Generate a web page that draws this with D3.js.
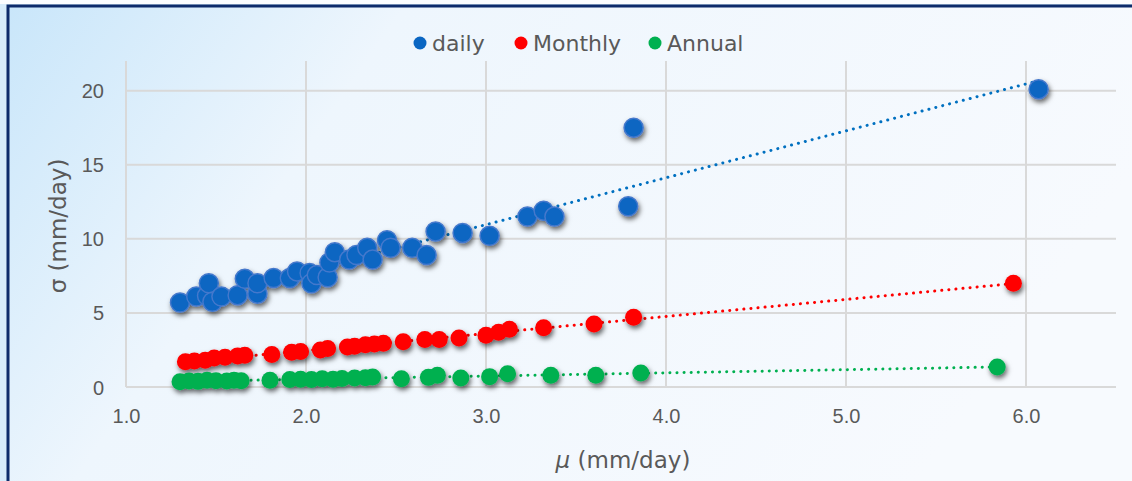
<!DOCTYPE html>
<html>
<head>
<meta charset="utf-8">
<script src="https://cdn.jsdelivr.net/npm/d3@7"></script>
<style>
  html, body { margin: 0; padding: 0; }
  body { width: 1132px; height: 481px; overflow: hidden; font-family: "DejaVu Sans", sans-serif; }
  .grid line { stroke: #d9d9d9; stroke-width: 2; }
  .tick-label { fill: #595959; font-size: 20px; }
  .title { fill: #595959; font-size: 23px; }
  .legend-text { fill: #595959; font-size: 22px; }
</style>
</head>
<body>
<svg id="chart" width="1132" height="481"></svg>
<script>
// mu (mm/day), sigma (mm/day)
const daily = [
  [1.30, 5.7], [1.39, 6.1], [1.45, 6.15], [1.46, 7.0], [1.48, 5.75], [1.53, 6.1],
  [1.62, 6.2], [1.66, 7.3], [1.73, 6.3], [1.73, 7.0], [1.82, 7.35], [1.91, 7.35],
  [1.95, 7.8], [2.02, 7.7], [2.03, 7.0], [2.06, 7.55], [2.12, 7.4], [2.13, 8.4],
  [2.16, 9.1], [2.24, 8.6], [2.28, 8.9], [2.34, 9.4], [2.37, 8.6], [2.45, 9.9],
  [2.47, 9.4], [2.59, 9.4], [2.67, 8.9], [2.72, 10.5], [2.87, 10.4], [3.02, 10.2],
  [3.23, 11.5], [3.32, 11.9], [3.38, 11.5], [3.79, 12.2], [3.82, 17.5], [6.07, 20.1]
];
const monthly = [
  [1.33, 1.7], [1.38, 1.75], [1.44, 1.8], [1.49, 1.95], [1.55, 2.0], [1.62, 2.1],
  [1.66, 2.15], [1.81, 2.2], [1.92, 2.35], [1.97, 2.4], [2.08, 2.5], [2.12, 2.6],
  [2.23, 2.7], [2.27, 2.75], [2.33, 2.85], [2.38, 2.9], [2.43, 2.95], [2.54, 3.05],
  [2.66, 3.2], [2.74, 3.2], [2.85, 3.3], [3.0, 3.5], [3.07, 3.7], [3.13, 3.9],
  [3.32, 4.0], [3.6, 4.25], [3.82, 4.7], [5.93, 7.0]
];
const annual = [
  [1.30, 0.35], [1.35, 0.4], [1.40, 0.38], [1.45, 0.45], [1.50, 0.42], [1.56, 0.4],
  [1.60, 0.45], [1.64, 0.42], [1.80, 0.45], [1.91, 0.5], [1.97, 0.52], [2.03, 0.5],
  [2.09, 0.55], [2.15, 0.52], [2.20, 0.58], [2.27, 0.6], [2.33, 0.62], [2.37, 0.68],
  [2.53, 0.55], [2.68, 0.65], [2.73, 0.8], [2.86, 0.6], [3.02, 0.7], [3.12, 0.9],
  [3.36, 0.8], [3.61, 0.8], [3.86, 0.95], [5.84, 1.35]
];
const seriesNames = ["daily", "Monthly", "Annual"];
const seriesColors = ["#0a66c2", "#ff0000", "#00b050"];
const xTicks = [1, 2, 3, 4, 5, 6];
const yTicks = [0, 5, 10, 15, 20];

const svg = d3.select("#chart");
const defs = svg.append("defs");

// background
const bg = defs.append("linearGradient").attr("id", "bg")
  .attr("x1", "0%").attr("y1", "0%").attr("x2", "100%").attr("y2", "30%");
bg.append("stop").attr("offset", "0%").attr("stop-color", "#c9e6fa");
bg.append("stop").attr("offset", "32%").attr("stop-color", "#eef6fd");
bg.append("stop").attr("offset", "100%").attr("stop-color", "#f7fafe");

const shadow = defs.append("filter").attr("id", "shadow")
  .attr("x", "-50%").attr("y", "-50%").attr("width", "200%").attr("height", "200%");
shadow.append("feDropShadow").attr("dx", 1.5).attr("dy", 3).attr("stdDeviation", 2.4)
  .attr("flood-color", "#000").attr("flood-opacity", 0.6);

svg.append("rect").attr("width", 1132).attr("height", 481).attr("fill", "#d7ecfb");
svg.append("rect").attr("x", 0).attr("y", 0).attr("width", 1132).attr("height", 4).attr("fill", "#fbfdff");
svg.append("rect").attr("x", 8).attr("y", 6).attr("width", 1140).attr("height", 490)
  .attr("fill", "url(#bg)").attr("stroke", "#0d2b6b").attr("stroke-width", 3);

const x = d3.scaleLinear().domain([1, 6.5]).range([126, 1116]);
const y = d3.scaleLinear().domain([0, 22]).range([387, 61]);

// grid
const grid = svg.append("g").attr("class", "grid");
grid.selectAll(".h").data(yTicks).join("line")
  .attr("x1", x(1)).attr("x2", x(6.5)).attr("y1", d => y(d)).attr("y2", d => y(d));
grid.selectAll(".v").data(xTicks).join("line")
  .attr("y1", y(0)).attr("y2", y(22)).attr("x1", d => x(d)).attr("x2", d => x(d));

// axes (labels only)
const yAxis = svg.append("g").attr("transform", `translate(${x(1) - 19},0)`)
  .call(d3.axisLeft(y).tickValues(yTicks).tickFormat(d3.format("d")).tickSize(0));
const xAxis = svg.append("g").attr("transform", `translate(0,${y(0) + 19})`)
  .call(d3.axisBottom(x).tickValues(xTicks).tickFormat(d3.format(".1f")).tickSize(0));
[yAxis, xAxis].forEach(a => {
  a.select(".domain").remove();
  a.selectAll("text").attr("class", "tick-label").attr("font-family", null).attr("font-size", null);
});
yAxis.selectAll("text").attr("dy", "0.35em");
xAxis.selectAll("text").attr("dy", "0.7em");

// titles
const xt = svg.append("text").attr("class", "title").attr("x", 623).attr("y", 468).attr("text-anchor", "middle");
xt.append("tspan").attr("font-style", "italic").text("μ");
xt.append("tspan").text(" (mm/day)");
svg.append("text").attr("class", "title").attr("text-anchor", "middle")
  .attr("transform", `translate(66,${(y(0) + y(22)) / 2 + 2}) rotate(-90)`)
  .text("σ (mm/day)");

// trendlines (least squares)
function fit(pts) {
  const mx = d3.mean(pts, d => d[0]), my = d3.mean(pts, d => d[1]);
  const b = d3.sum(pts, d => (d[0] - mx) * (d[1] - my)) / d3.sum(pts, d => (d[0] - mx) ** 2);
  const a = my - b * mx;
  const ext = d3.extent(pts, d => d[0]);
  return ext.map(v => [v, a + b * v]);
}
const allSeries = [daily, monthly, annual];
allSeries.forEach((pts, i) => {
  svg.append("path").datum(fit(pts))
    .attr("d", d3.line().x(d => x(d[0])).y(d => y(d[1])))
    .attr("fill", "none").attr("stroke", i === 0 ? "#0070c0" : seriesColors[i])
    .attr("stroke-width", 3).attr("stroke-linecap", "round")
    .attr("stroke-dasharray", "0.1 7");
});

// markers
allSeries.forEach((pts, i) => {
  svg.append("g").attr("filter", "url(#shadow)")
    .selectAll("circle").data(pts).join("circle")
    .attr("cx", d => x(d[0])).attr("cy", d => y(d[1]))
    .attr("r", i === 0 ? 9.5 : 8.5)
    .attr("fill", seriesColors[i])
    .attr("stroke", i === 0 ? "#4478cc" : seriesColors[i])
    .attr("stroke-width", i === 0 ? 1.5 : 0);
});

// legend
const legendX = [420, 521, 655];
const lg = svg.append("g").selectAll("g").data(seriesNames).join("g")
  .attr("transform", (d, i) => `translate(${legendX[i]},43)`);
lg.append("circle").attr("r", 6.5).attr("fill", (d, i) => seriesColors[i]);
lg.append("text").attr("class", "legend-text").attr("x", 12).attr("dy", "0.35em").text(d => d);
</script>
</body>
</html>
